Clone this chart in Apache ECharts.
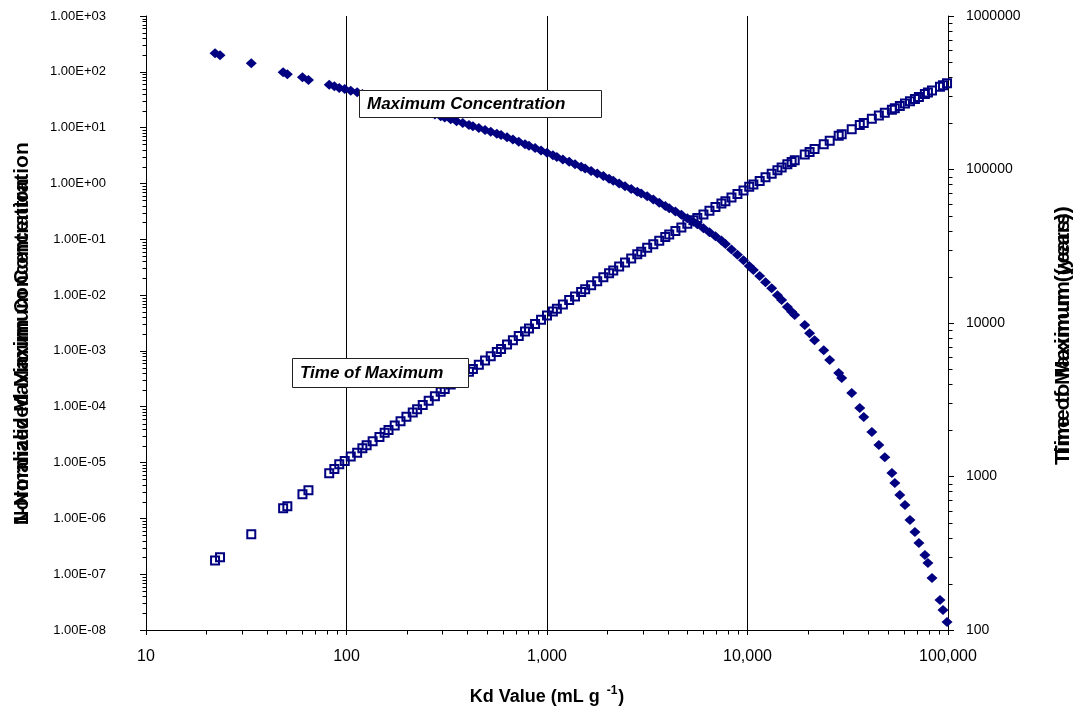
<!DOCTYPE html>
<html>
<head>
<meta charset="utf-8">
<script src="https://cdn.jsdelivr.net/npm/echarts@6/dist/echarts.min.js"></script>
<style>
  html, body { margin: 0; padding: 0; background: #fff; }
  #chart { width: 1080px; height: 715px; }
</style>
</head>
<body>
<div id="chart"></div>
<script>
// Kd value of each realisation (mL/g)
const kdValues = [
  22.1, 23.4, 33.5, 48.3, 50.7, 60.3, 64.6,
  82, 87, 92, 98, 105, 113, 120, 126, 135, 146, 155, 162, 174, 186,
  199, 214, 225, 240, 257, 276, 295, 309, 331, 354, 380, 408, 427, 457,
  491, 524, 562, 590, 632, 676, 723, 777, 813, 872, 934, 1000,
  1070, 1120, 1200, 1290, 1380, 1480, 1550, 1660, 1780, 1910, 2040, 2140,
  2290, 2450, 2630, 2820, 2950, 3160, 3390, 3630, 3890, 4070, 4370, 4680,
  5010, 5370, 5620, 6030, 6460, 6920, 7410, 7760, 8320, 8910, 9550,
  10200, 10700, 11500, 12300, 13200, 14100, 14800, 15800,
  16600, 17200, 19300, 20400, 21600, 24000, 25700, 28500, 29500, 33100,
  36300, 38000, 41700, 45200, 48400, 52500, 54300, 57500, 61000, 64600,
  68400, 71600, 76700, 79400, 83200, 91200, 94400, 98900
];

// normalized maximum concentration (left axis)
const maxConcentration = [
  215, 198, 142, 98, 90, 80, 71,
  58.9, 54.9, 51.3, 49.0, 45.8, 42.9, 40.1, 38.4, 35.9, 33.6, 31.4, 30.1, 28.1, 26.3,
  24.4, 22.6, 21.5, 20.0, 18.5, 17.2, 16.0, 15.2, 14.1, 13.0, 12.1, 11.2, 10.6, 9.82,
  9.10, 8.43, 7.80, 7.41, 6.73, 6.12, 5.56, 5.05, 4.73, 4.30, 3.91, 3.55,
  3.21, 2.99, 2.70, 2.44, 2.20, 1.99, 1.85, 1.67, 1.51, 1.36, 1.21, 1.12,
  1.00, 0.895, 0.798, 0.713, 0.661, 0.589, 0.514, 0.450, 0.393, 0.359, 0.313, 0.274,
  0.239, 0.207, 0.185, 0.157, 0.133, 0.113, 0.0955, 0.0823, 0.0658, 0.0526, 0.0422,
  0.0333, 0.0282, 0.0219, 0.0170, 0.0132, 0.00989, 0.00815, 0.00611,
  0.00505, 0.00438, 0.00290, 0.00208, 0.00156, 0.00103, 6.84e-4, 4.01e-4, 3.26e-4, 1.76e-4,
  9.46e-5, 6.53e-5, 3.52e-5, 2.06e-5, 1.25e-5, 6.49e-6, 4.30e-6, 2.62e-6, 1.73e-6, 9.33e-7,
  5.70e-7, 3.62e-7, 2.21e-7, 1.59e-7, 8.55e-8, 3.45e-8, 2.29e-8, 1.39e-8
];

// time of maximum concentration, years (right axis)
const timeOfMaximum = [
  284, 298, 421, 621, 640, 766, 813,
  1050, 1120, 1200, 1260, 1350, 1430, 1530, 1600, 1700, 1810, 1930, 2010, 2150, 2290,
  2450, 2610, 2740, 2920, 3120, 3330, 3560, 3720, 3970, 4230, 4510, 4810, 5010, 5350,
  5700, 6080, 6470, 6760, 7230, 7710, 8240, 8810, 9200, 9840, 10500, 11200,
  11900, 12400, 13200, 14100, 14900, 15900, 16600, 17600, 18700, 19900, 21100, 22000,
  23300, 24800, 26300, 28000, 29100, 30900, 32600, 34400, 36300, 37700, 39700, 41900,
  44300, 46700, 48300, 51000, 53800, 56900, 60000, 62200, 65600, 69300, 73100,
  77300, 80000, 84300, 88900, 93700, 98900, 103000, 108000,
  112000, 115000, 125000, 130000, 136000, 146000, 154000, 166000, 170000, 183000,
  195000, 201000, 214000, 225000, 234000, 245000, 251000, 259000, 269000, 278000,
  288000, 297000, 310000, 317000, 327000, 346000, 354000, 365000
];

const FONT = "'Liberation Sans', Arial, sans-serif";
const NAVY = '#000080';

// minor tick positions (2..9 in each decade)
const minorX = [], minorLeft = [], minorRight = [];
for (let e = 1; e < 5; e++) for (let m = 2; m < 10; m++) minorX.push([m * Math.pow(10, e), 1e-8]);
for (let e = -8; e < 3; e++) for (let m = 2; m < 10; m++) minorLeft.push([10, m * Math.pow(10, e)]);
for (let e = 2; e < 6; e++) for (let m = 2; m < 10; m++) minorRight.push([100000, m * Math.pow(10, e)]);

function tickSeries(yIdx, pts, dx, dy) {
  return {
    type: 'custom', yAxisIndex: yIdx, silent: true, clip: false, z: 1,
    data: pts,
    renderItem: function (params, api) {
      const p = api.coord([api.value(0), api.value(1)]);
      const x = Math.round(p[0]) + 0.5, y = Math.round(p[1]) + 0.5;
      return { type: 'line', shape: { x1: x, y1: y, x2: x + dx, y2: y + dy },
               style: { stroke: '#000', lineWidth: 1 } };
    }
  };
}

function sciLabel(v) {
  const e = Math.round(Math.log10(v));
  const sign = e < 0 ? '-' : '+';
  const a = Math.abs(e);
  return '1.00E' + sign + (a < 10 ? '0' + a : a);
}

function vTitle(text, x, y, size) {
  return { type: 'text', x: x, y: y, rotation: Math.PI / 2, z: 10,
    style: { text: text, fontSize: size, fontWeight: 'bold', fontFamily: FONT,
             fill: '#000', align: 'left', verticalAlign: 'middle' } };
}

const chart = echarts.init(document.getElementById('chart'));

chart.setOption({
  animation: false,
  backgroundColor: '#fff',
  textStyle: { fontFamily: FONT },
  grid: { left: 146, right: 132, top: 16, bottom: 85 },
  xAxis: {
    type: 'log', logBase: 10, min: 10, max: 100000, interval: 1,
    axisLine: { show: true, lineStyle: { color: '#000', width: 1 } },
    axisTick: { show: true, length: 5, lineStyle: { color: '#000' } },
    axisLabel: {
      color: '#000', fontSize: 16, fontFamily: FONT, margin: 19,
      formatter: v => Math.round(v).toLocaleString('en-US')
    },
    splitLine: { show: true, lineStyle: { color: '#000', width: 1 } }
  },
  yAxis: [
    {
      type: 'log', logBase: 10, min: 1e-8, max: 1000, interval: 1,
      axisLine: { show: true, lineStyle: { color: '#000', width: 1 } },
      axisTick: { show: true, length: 6, lineStyle: { color: '#000' } },
      axisLabel: { color: '#000', fontSize: 13, fontFamily: FONT, margin: 40, formatter: sciLabel },
      splitLine: { show: false }
    },
    {
      type: 'log', logBase: 10, min: 100, max: 1000000, interval: 1, position: 'right',
      axisLine: { show: true, lineStyle: { color: '#000', width: 1 } },
      axisTick: { show: true, length: 6, lineStyle: { color: '#000' } },
      axisLabel: { color: '#000', fontSize: 14, fontFamily: FONT, margin: 18,
                   formatter: v => String(Math.round(v)) },
      splitLine: { show: false }
    }
  ],
  series: [
    tickSeries(0, minorX, 0, 4),
    tickSeries(0, minorLeft, -4, 0),
    tickSeries(1, minorRight, 4, 0),
    {
      name: 'Maximum Concentration', type: 'scatter', yAxisIndex: 0, z: 3,
      symbol: 'diamond', symbolSize: [11, 10],
      itemStyle: { color: NAVY, opacity: 1 },
      data: kdValues.map((k, i) => [k, maxConcentration[i]])
    },
    {
      name: 'Time of Maximum', type: 'scatter', yAxisIndex: 1, z: 3,
      symbol: 'rect', symbolSize: 8,
      itemStyle: { color: 'rgba(0,0,0,0)', borderColor: NAVY, borderWidth: 2, opacity: 1 },
      data: kdValues.map((k, i) => [k, timeOfMaximum[i]])
    }
  ],
  graphic: [
    // axis titles (the original's titles are overprinted twice)
    vTitle('Normalized Maximum Concentration', 22, 525, 20),
    vTitle('1-Normalized Maximum Concentration', 22, 525, 21),
    vTitle('Time of Maximum (years)', 1063, 465, 21),
    vTitle('Time to Maximum (years)', 1063, 458, 21),
    { type: 'text', x: 547, y: 697, z: 10,
      style: {
        text: '{a|Kd Value (mL g }{s|-1}{a|)}',
        align: 'center', verticalAlign: 'middle',
        rich: {
          a: { fontSize: 18, fontWeight: 'bold', fontFamily: FONT, color: '#000' },
          s: { fontSize: 12, fontWeight: 'bold', fontFamily: FONT, color: '#000', padding: [0, 1, 12, 2] }
        }
      } },
    // annotation boxes
    { type: 'rect', z: 20, shape: { x: 359.5, y: 90.5, width: 242, height: 27 },
      style: { fill: '#fff', stroke: '#222', lineWidth: 1 } },
    { type: 'text', z: 21, x: 367, y: 104,
      style: { text: 'Maximum Concentration', fontSize: 17, fontWeight: 'bold', fontStyle: 'italic',
               fontFamily: FONT, fill: '#000', align: 'left', verticalAlign: 'middle' } },
    { type: 'rect', z: 20, shape: { x: 292.5, y: 358.5, width: 176, height: 29 },
      style: { fill: '#fff', stroke: '#222', lineWidth: 1 } },
    { type: 'text', z: 21, x: 300, y: 373,
      style: { text: 'Time of Maximum', fontSize: 17, fontWeight: 'bold', fontStyle: 'italic',
               fontFamily: FONT, fill: '#000', align: 'left', verticalAlign: 'middle' } }
  ]
});
</script>
</body>
</html>
